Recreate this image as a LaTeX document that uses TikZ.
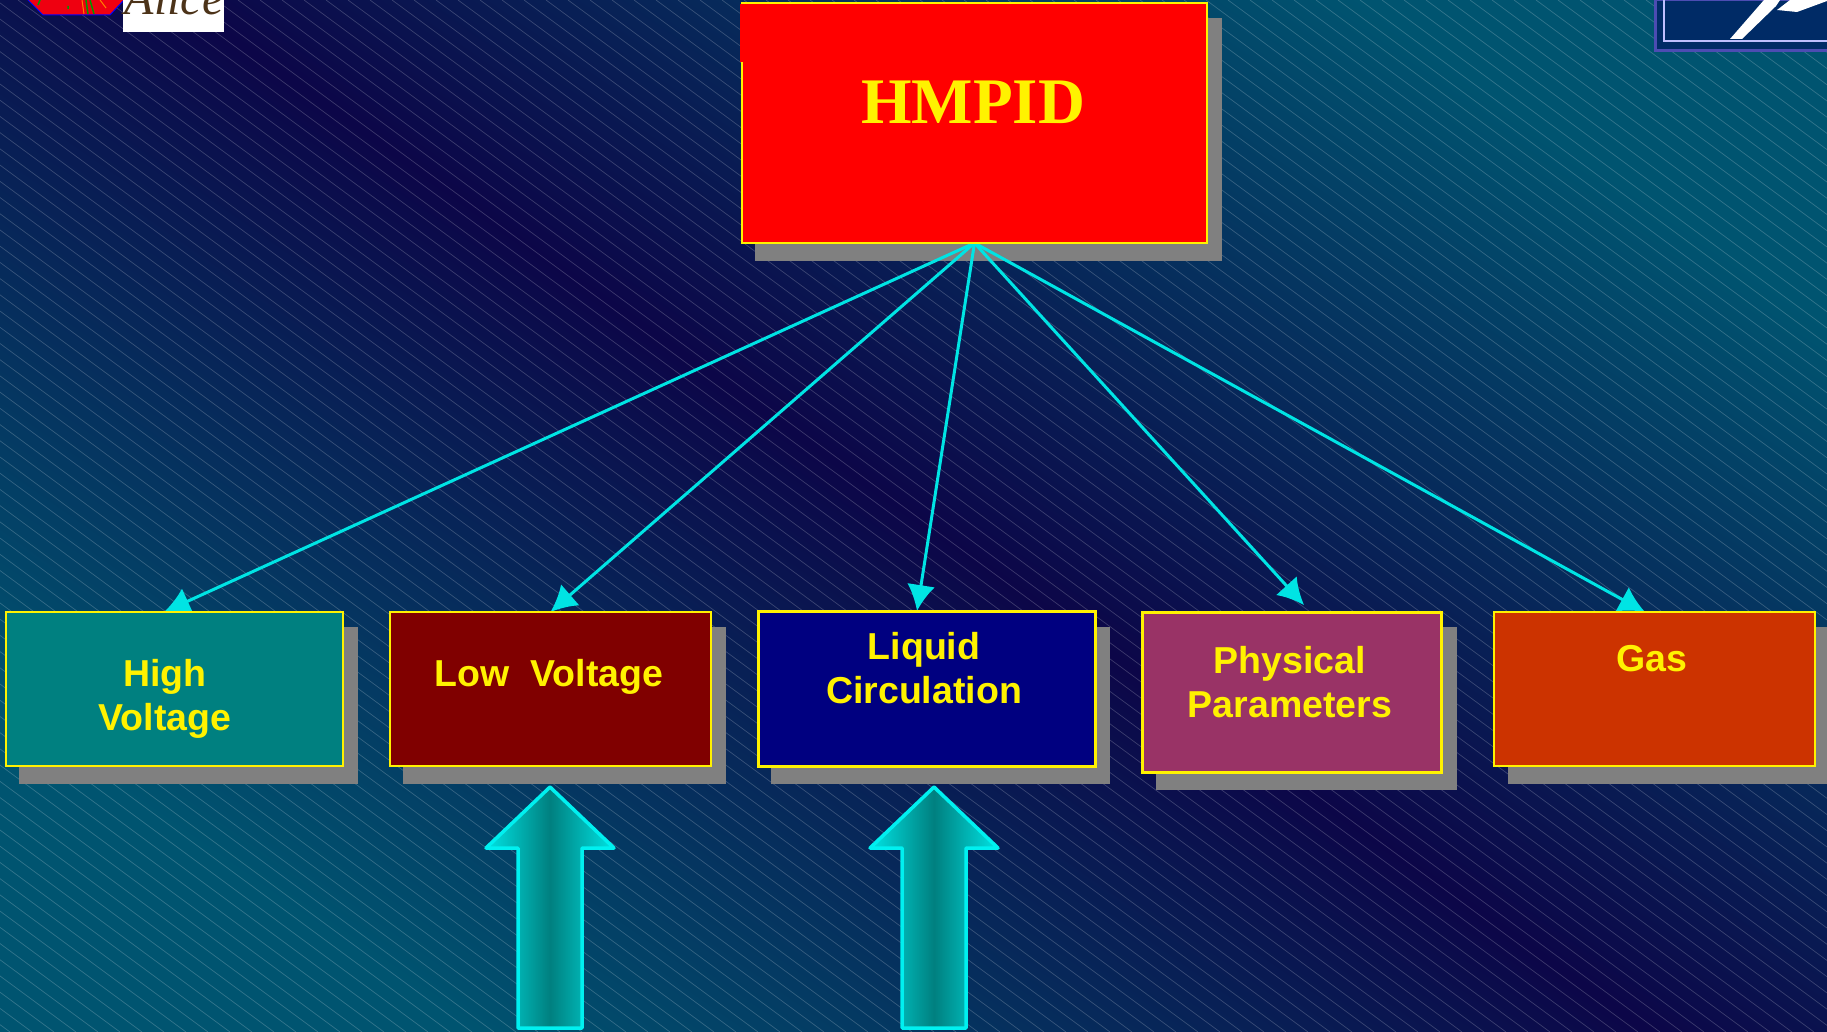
\documentclass[tikz,border=0pt]{standalone}
\usepackage{fontspec}
\usepackage{xcolor}
\usetikzlibrary{arrows.meta,backgrounds}
\setmainfont{Liberation Sans}
\newfontfamily\serifface{Liberation Serif}
\definecolor{bgteal}{HTML}{005470}
\definecolor{bgnavy}{HTML}{0C0648}
\definecolor{linkcyan}{HTML}{00E4E4}
\definecolor{edgecyan}{HTML}{00F0F0}
\definecolor{shadowgray}{HTML}{808080}
\definecolor{plum}{HTML}{993366}
\definecolor{rust}{HTML}{CC3300}
\definecolor{logonavy}{HTML}{002B66}
\begin{document}
\begin{tikzpicture}[
    x=1pt, y=-1pt,
    box/.style={rectangle, draw=yellow, line width=2pt, inner sep=0pt, outer sep=0pt},
    lbl/.style={font=\fontsize{37.5}{44.5}\selectfont\bfseries, text=yellow, align=center, inner sep=0pt},
    link/.style={-{Latex[length=26pt,width=28pt]}, line width=3pt, linkcyan},
    hatch/.style={white, opacity=0.2, line width=0.7pt},
    shadowbox/.style={fill=shadowgray},
    blockarrow/.style={draw=edgecyan, line width=3.5pt, line join=round, left color=linkcyan, right color=linkcyan, middle color=teal}
]
    \useasboundingbox (0,0) rectangle (1827,1032);

    % Top box
    \node[box, fill=red, minimum width=465pt, minimum height=240pt] (hmpid) at (974.5,123) {};
    \node[font=\fontsize{65}{65}\selectfont\bfseries\serifface, text=yellow, inner sep=0pt] (hmpidtext) at (973,102) {HMPID};
    \fill[red] (740,4.2) rectangle (760,62);

    % Lower boxes
    \node[box, fill=teal, minimum width=337pt, minimum height=154pt] (hv) at (174.5,689) {};
    \node[box, fill=black!50!red, minimum width=321pt, minimum height=154pt] (lv) at (550.5,689) {};
    \node[box, fill=black!50!blue, line width=3pt, minimum width=337pt, minimum height=155pt] (lc) at (926.5,688.5) {};
    \node[box, fill=plum, line width=3pt, minimum width=299pt, minimum height=160pt] (pp) at (1291.5,692) {};
    \node[box, fill=rust, minimum width=321pt, minimum height=154pt] (gas) at (1654.5,689) {};

    % Box labels
    \node[lbl] (hvtext) at (165,699) {High\\Voltage};
    \node[lbl] (lvtext) at (549,677) {Low\ \ Voltage};
    \node[lbl] (lctext) at (924,668) {Liquid\\Circulation};
    \node[lbl] (pptext) at (1290,682) {Physical\\Parameters};
    \node[lbl] (gastext) at (1652,659) {Gas};

    % Block arrows
    \foreach \ax in {550,934} {
        \draw[blockarrow] (\ax-32,1028) -- (\ax-32,848) -- (\ax-64,848) -- (\ax,787)
            -- (\ax+64,848) -- (\ax+32,848) -- (\ax+32,1028) -- cycle;
    }

    % Logo, top left
    \draw[blue, fill=red!75!purple, line width=1pt] (28,0) -- (43,15) -- (110,15) -- (124,0);
    \draw[green!60!black, line width=1.5pt] (38,5) -- (40,0) (88,14) -- (86,0) (94,14) -- (90,0) (68,9) -- (68,6);
    \draw[orange, line width=1pt] (84,14) -- (82,0) (106,8) -- (100,0);
    \node[fill=white, minimum width=101pt, minimum height=32pt, inner sep=0pt] (alicebox) at (173.5,16) {};
    \node[font=\fontsize{48}{48}\selectfont\itshape\serifface, text=black!60!brown, anchor=base, inner sep=0pt] (alice) at (174,15) {Alice};

    % Logo, top right
    \draw[blue!40!gray, fill=logonavy, line width=3pt] (1655,0) -- (1655,51) -- (1830,51) -- (1830,0) -- cycle;
    \draw[blue!25!white, line width=2pt] (1664,0) -- (1664,41) -- (1830,41);
    \fill[white] (1730,39) -- (1742,39) -- (1776,6) -- (1780,0) -- (1764,0) -- cycle;
    \fill[white] (1777,10) -- (1797,12) -- (1827,1) -- (1827,0) -- (1790,0) -- cycle;

    \begin{pgfonlayer}{background}
        % Backdrop and its thin lines
        \fill[shading=axis, top color=bgteal, bottom color=bgteal, middle color=bgnavy, shading angle=-35] (0,0) rectangle (1827,1032);
        \foreach \hx in {-1500,-1478,...,1827} {
            \draw[hatch] (\hx,0) -- (\hx+1400,1032);
        }

        % Shadows
        \fill[shadowbox] (755,18) rectangle (1222,261);
        \fill[shadowbox] (19,627) rectangle (358,784);
        \fill[shadowbox] (403,627) rectangle (726,784);
        \fill[shadowbox] (771,627) rectangle (1110,784);
        \fill[shadowbox] (1156,627) rectangle (1457,790);
        \fill[shadowbox] (1508,627) rectangle (1827,784);

        % Links
        \draw[link] (hmpid.south) -- ([xshift=-10.5pt]hv.north);
        \draw[link] (hmpid.south) -- (lv.north);
        \draw[link] (hmpid.south) -- ([xshift=-9.5pt]lc.north);
        \draw[link] (hmpid.south) -- ([xshift=12.5pt,yshift=7pt]pp.north);
        \draw[link] (hmpid.south) -- ([xshift=-9.5pt]gas.north);
    \end{pgfonlayer}
\end{tikzpicture}
\end{document}
